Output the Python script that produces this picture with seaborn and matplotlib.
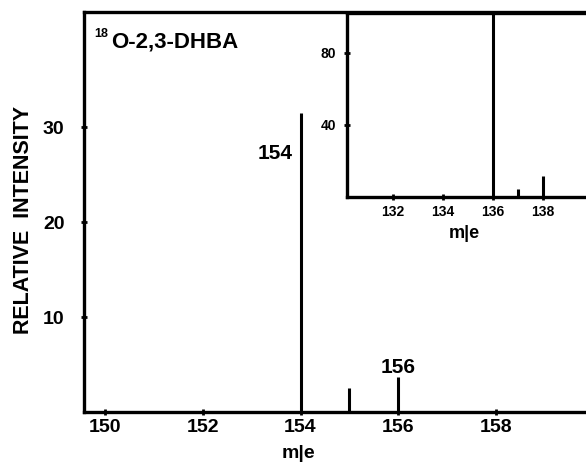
import matplotlib
matplotlib.use("Agg")
import matplotlib.pyplot as plt
import seaborn as sns

# peaks of the main spectrum
main_mz = [154, 155, 156]
main_int = [31.5, 2.5, 3.7]
main_xticks = [150, 152, 154, 156, 158]
main_yticks = [10, 20, 30]

# peaks of the inset spectrum
inset_mz = [136, 137, 138]
inset_int = [105, 4.4, 11.7]
inset_xticks = [132, 134, 136, 138]
inset_yticks = [40, 80]

sns.set_style("ticks")
plt.rcParams['font.family'] = ['Liberation Sans', 'DejaVu Sans']
plt.rcParams['font.weight'] = 'bold'
plt.rcParams['text.color'] = 'black'
plt.rcParams['axes.labelcolor'] = 'black'
plt.rcParams['xtick.color'] = 'black'
plt.rcParams['ytick.color'] = 'black'

fig = plt.figure(figsize=(5.86, 4.65), dpi=100)
ax = fig.add_axes([0.1433, 0.114, 0.8567, 0.860])

ax.vlines(main_mz, 0, main_int, color='black', linewidth=2.2)
ax.set_xlim(149.57, 159.84)
ax.set_ylim(0, 42.1)
ax.set_xticks(main_xticks)
ax.set_yticks(main_yticks)
ax.tick_params(axis='both', direction='inout', length=4, width=2, colors='black',
               labelsize=14)
ax.tick_params(axis='x', pad=3)
ax.tick_params(axis='y', pad=12)
for lab in ax.get_xticklabels() + ax.get_yticklabels():
    lab.set_fontweight('bold')
sns.despine(ax=ax, top=False, right=True)
for s in ['left', 'bottom', 'top']:
    ax.spines[s].set_linewidth(2.4)
    ax.spines[s].set_color('black')

ax.set_xlabel('m|e', fontsize=14, fontweight='bold')
ax.xaxis.set_label_coords(0.428, -0.082)
ax.set_ylabel('RELATIVE  INTENSITY', fontsize=15.5, fontweight='bold')
ax.yaxis.set_label_coords(-0.1, 0.48)

ax.text(153.83, 27.2, '154', ha='right', va='center', fontsize=15, fontweight='bold')
ax.text(156.0, 4.7, '156', ha='center', va='center', fontsize=15, fontweight='bold')

ax.text(0.021, 0.945, '18', transform=ax.transAxes, fontsize=9, fontweight='bold',
        ha='left', va='center')
ax.text(0.055, 0.9125, 'O-2,3-DHBA', transform=ax.transAxes, fontsize=16,
        fontweight='bold', ha='left', va='baseline')

# inset
ins = fig.add_axes([0.592, 0.576, 0.408, 0.396])
ins.vlines(inset_mz, 0, inset_int, color='black', linewidth=2.2)
ins.set_xlim(130.16, 139.72)
ins.set_ylim(0, 102)
ins.set_xticks(inset_xticks)
ins.set_yticks(inset_yticks)
ins.tick_params(axis='both', direction='inout', length=4, width=2, colors='black',
                labelsize=10)
ins.tick_params(axis='y', pad=6)
for lab in ins.get_xticklabels() + ins.get_yticklabels():
    lab.set_fontweight('bold')
sns.despine(ax=ins, top=False, right=True)
for s in ['left', 'bottom', 'top']:
    ins.spines[s].set_linewidth(2.4)
    ins.spines[s].set_color('black')
ins.set_xlabel('m|e', fontsize=13, fontweight='bold')
ins.xaxis.set_label_coords(0.49, -0.15)

fig.savefig('out.png', dpi=100)
